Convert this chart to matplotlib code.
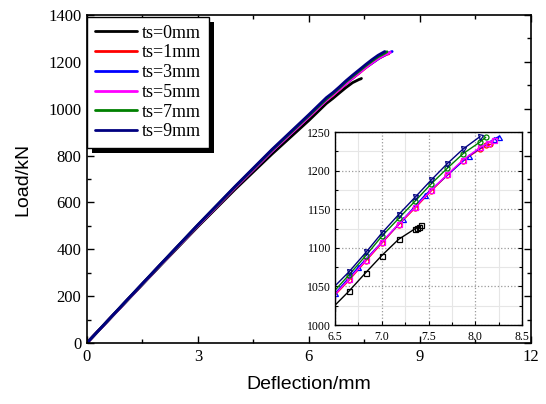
import matplotlib
matplotlib.use('Agg')
import matplotlib.pyplot as plt
from matplotlib.patches import Rectangle
from matplotlib.ticker import MultipleLocator, FormatStrFormatter

# Data: load-deflection curves (deflection in mm, load in kN)
labels = ['ts=0mm', 'ts=1mm', 'ts=3mm', 'ts=5mm', 'ts=7mm', 'ts=9mm']
colors = ['black', 'red', 'blue', 'magenta', 'green', 'navy']
markers = ['s', 'o', '^', 's', 'o', 'v']

x_ts0 = [0, 0.05, 1, 2, 3, 4, 5, 6, 6.47, 6.65, 6.83, 7.0, 7.18, 7.36, 7.38, 7.40, 7.42]
y_ts0 = [0, 9, 167, 333, 497, 655, 806, 950, 1022, 1044, 1068, 1090, 1111, 1125, 1126, 1127, 1129]

x_ts1 = [0, 0.05, 1, 2, 3, 4, 5, 6, 6.47, 6.65, 6.83, 7.0, 7.18, 7.36, 7.53, 7.70, 7.87, 8.05, 8.12, 8.16]
y_ts1 = [0, 9, 168, 336, 502, 663, 819, 966, 1035, 1058, 1083, 1106, 1130, 1152, 1174, 1194, 1213, 1228, 1233, 1234]

x_ts3 = [0, 0.05, 1, 2, 3, 4, 5, 6, 6.5, 6.75, 7.23, 7.46, 7.93, 8.2, 8.25]
y_ts3 = [0, 9, 168, 336, 502, 663, 819, 967, 1041, 1075, 1137, 1168, 1219, 1241, 1244]

x_ts5 = [0, 0.05, 1, 2, 3, 4, 5, 6, 6.47, 6.65, 6.83, 7.0, 7.18, 7.36, 7.53, 7.70, 7.87, 8.05, 8.14, 8.20]
y_ts5 = [0, 9, 168, 336, 502, 663, 819, 966, 1036, 1059, 1084, 1107, 1131, 1153, 1175, 1195, 1214, 1230, 1236, 1240]

x_ts7 = [0, 0.05, 1, 2, 3, 4, 5, 6, 6.47, 6.65, 6.83, 7.0, 7.18, 7.36, 7.53, 7.70, 7.87, 8.05, 8.11]
y_ts7 = [0, 9, 169, 337, 504, 666, 823, 971, 1041, 1065, 1090, 1115, 1138, 1161, 1183, 1203, 1222, 1237, 1243]

x_ts9 = [0, 0.05, 1, 2, 3, 4, 5, 6, 6.47, 6.65, 6.83, 7.0, 7.18, 7.36, 7.53, 7.70, 7.87, 8.05]
y_ts9 = [0, 9, 170, 338, 505, 668, 826, 975, 1047, 1069, 1094, 1119, 1143, 1166, 1188, 1209, 1228, 1244]

series_x = [x_ts0, x_ts1, x_ts3, x_ts5, x_ts7, x_ts9]
series_y = [y_ts0, y_ts1, y_ts3, y_ts5, y_ts7, y_ts9]

SERIF = 'Liberation Serif'
SANS = 'Liberation Sans'

fig = plt.figure(figsize=(5.46, 4.04), dpi=100)
ax = fig.add_axes([0.1593, 0.151, 0.813, 0.812])

for x, y, c, lab in zip(series_x, series_y, colors, labels):
    ax.plot(x, y, color=c, lw=2.0, label=lab, solid_capstyle='round')

ax.set_xlim(0, 12)
ax.set_ylim(0, 1400)
ax.xaxis.set_major_locator(MultipleLocator(3))
ax.xaxis.set_minor_locator(MultipleLocator(1.5))
ax.yaxis.set_major_locator(MultipleLocator(200))
ax.yaxis.set_minor_locator(MultipleLocator(100))
ax.tick_params(which='both', direction='in', top=True, right=True, width=1.0)
ax.tick_params(which='major', length=5, labelsize=12, pad=4)
ax.tick_params(which='minor', length=3)
for lbl in ax.get_xticklabels() + ax.get_yticklabels():
    lbl.set_fontfamily(SERIF)
for sp in ax.spines.values():
    sp.set_linewidth(1.2)
ax.set_xlabel('Deflection/mm', fontsize=14, fontfamily=SANS, labelpad=8)
ax.set_ylabel('Load/kN', fontsize=14, fontfamily=SANS, labelpad=12)

leg = ax.legend(loc='upper left', bbox_to_anchor=(0.0, 0.995), fancybox=False,
                framealpha=1, edgecolor='black', prop={'family': SERIF, 'size': 13},
                handlelength=2.3, handletextpad=0.3, labelspacing=0.15,
                borderpad=0.45, borderaxespad=0)
leg.get_frame().set_linewidth(1.0)
for h in leg.get_lines():
    h.set_linewidth(2.0)
leg.set_zorder(11)

# Inset zoom of peak region
axin = fig.add_axes([0.6136, 0.1955, 0.3425, 0.4777])
for x, y, c, m in zip(series_x, series_y, colors, markers):
    axin.plot(x, y, color=c, lw=1.0, marker=m, markersize=3.6,
              markerfacecolor='none', markeredgecolor=c, markeredgewidth=0.9)
axin.set_xlim(6.5, 8.5)
axin.set_ylim(1000, 1250)
axin.xaxis.set_major_locator(MultipleLocator(0.5))
axin.xaxis.set_minor_locator(MultipleLocator(0.25))
axin.yaxis.set_major_locator(MultipleLocator(50))
axin.yaxis.set_minor_locator(MultipleLocator(25))
axin.grid(which='major', color='#999999', linestyle=':', linewidth=0.9)
axin.grid(which='minor', color='#e6e6e6', linestyle='-', linewidth=0.8)
axin.set_axisbelow(True)
axin.tick_params(which='both', direction='in', right=True, width=0.8)
axin.tick_params(which='major', length=3, labelsize=8.5)
axin.tick_params(axis='x', which='major', pad=4)
axin.tick_params(axis='y', which='major', pad=3)
axin.tick_params(which='minor', length=2)
axin.xaxis.set_major_formatter(FormatStrFormatter('%.1f'))
for lbl in axin.get_xticklabels() + axin.get_yticklabels():
    lbl.set_fontfamily(SERIF)
for sp in axin.spines.values():
    sp.set_linewidth(1.0)

# Black drop shadow behind legend (drawn in the main axes, below the legend)
fig.canvas.draw()
bb = leg.get_window_extent().transformed(ax.transAxes.inverted())
ax_w = 0.813 * 546
ax_h = 0.812 * 404
off_x = 5 / ax_w
off_y = 5 / ax_h
shadow = Rectangle((bb.x0 + off_x, bb.y0 - off_y), bb.width, bb.height,
                   transform=ax.transAxes, facecolor='black', edgecolor='none',
                   zorder=10, clip_on=False)
ax.add_patch(shadow)

fig.savefig('out.png', dpi=100)
